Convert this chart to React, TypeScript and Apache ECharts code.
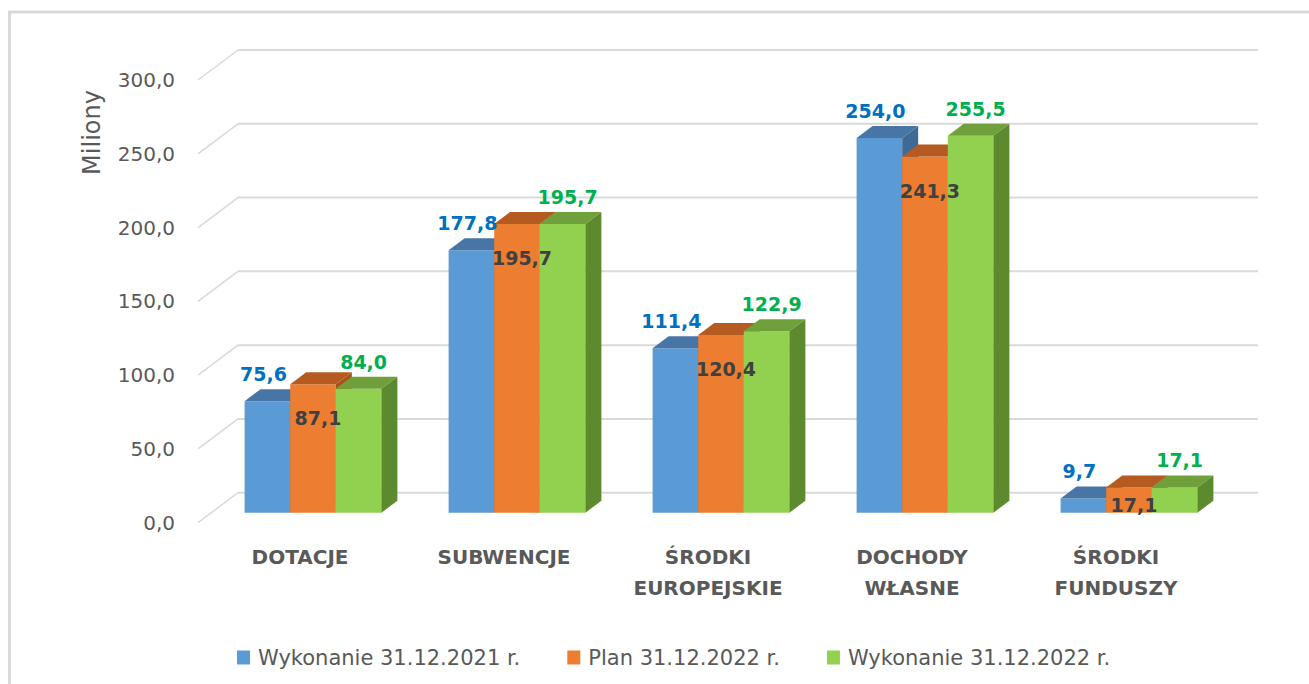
import React, { useEffect, useRef } from "react";
import * as echarts from "echarts";

const categories = ["DOTACJE", "SUBWENCJE", "ŚRODKI\nEUROPEJSKIE", "DOCHODY\nWŁASNE", "ŚRODKI\nFUNDUSZY"];
const seriesNames = ["Wykonanie 31.12.2021 r.", "Plan 31.12.2022 r.", "Wykonanie 31.12.2022 r."];
const wykonanie2021 = [75.6, 177.8, 111.4, 254.0, 9.7];
const plan2022 = [87.1, 195.7, 120.4, 241.3, 17.1];
const wykonanie2022 = [84.0, 195.7, 122.9, 255.5, 17.1];
const yTicks = [0, 50, 100, 150, 200, 250, 300];
const axisTitle = "Miliony";

const FONT = "'DejaVu Sans', sans-serif";
const fmt = (v: number) => v.toFixed(1).replace(".", ",");

// 3D geometry (pixels)
const FRONT_DX = 13;
const FRONT_DY = -10;
const DEPTH_DX = 16;
const DEPTH_DY = -12;
const WALL_DX = 40;
const WALL_DY = -30;

type Palette = { front: string; top: string; side: string; label: string };

const palettes: Palette[] = [
  { front: "#5b9bd5", top: "#4776a6", side: "#3e6a96", label: "#0070c0" },
  { front: "#ed7d31", top: "#b55b21", side: "#a9531c", label: "#404040" },
  { front: "#92d050", top: "#70a03c", side: "#5d8a2e", label: "#00b050" },
];

function makeBarRender(k: number) {
  const p = palettes[k];
  return (params: any, api: any) => {
    const i = api.value(0);
    const v = api.value(1);
    const top = api.coord([i, v]);
    const base = api.coord([i, 0]);
    const band = api.size([1, 0])[0];
    const bw = band * 0.2235;
    const cx = top[0] + (k - 1) * bw + FRONT_DX;
    const l = cx - bw / 2;
    const r = cx + bw / 2;
    const ty = top[1] + FRONT_DY;
    const by = base[1] + FRONT_DY;
    let lx = cx;
    let ly = ty;
    if (k === 0) {
      lx = cx - 4;
      ly = ty - 27;
    } else if (k === 2) {
      lx = cx + 5;
      ly = ty - 27;
    } else {
      lx = cx + 5;
      ly = Math.min(ty + 34, by - 8);
    }
    return {
      type: "group",
      children: [
        {
          type: "rect",
          shape: { x: l, y: ty, width: bw, height: Math.max(by - ty, 0) },
          style: { fill: p.front },
        },
        {
          type: "polygon",
          shape: {
            points: [
              [l, ty],
              [l + DEPTH_DX, ty + DEPTH_DY],
              [r + DEPTH_DX, ty + DEPTH_DY],
              [r, ty],
            ],
          },
          style: { fill: p.top },
        },
        {
          type: "polygon",
          shape: {
            points: [
              [r, ty],
              [r + DEPTH_DX, ty + DEPTH_DY],
              [r + DEPTH_DX, by + DEPTH_DY],
              [r, by],
            ],
          },
          style: { fill: p.side },
        },
        {
          type: "text",
          z2: 100,
          x: lx,
          y: ly,
          style: {
            text: fmt(v),
            fill: p.label,
            font: `bold 19px ${FONT}`,
            textAlign: "center",
            textVerticalAlign: "middle",
            align: "center",
            verticalAlign: "middle",
          },
        },
      ],
    };
  };
}

const gridRender = (params: any, api: any) => {
  const cs = params.coordSys;
  const y = api.coord([0, api.value(1)])[1];
  const x0 = cs.x;
  return {
    type: "group",
    children: [
      {
        type: "polyline",
        shape: { points: [[x0, y], [x0 + WALL_DX, y + WALL_DY]] },
        style: { stroke: "#d9d9d9", lineWidth: 1.5, fill: "none" },
      },
      {
        type: "line",
        shape: { x1: x0 + WALL_DX, y1: y + WALL_DY, x2: x0 + WALL_DX + cs.width, y2: y + WALL_DY },
        style: { stroke: "#d9d9d9", lineWidth: 2 },
      },
    ],
  };
};

export default function App() {
  const ref = useRef<HTMLDivElement>(null);
  useEffect(() => {
    if (!ref.current) return;
    const chart = echarts.init(ref.current, undefined, { renderer: "svg" });
    const allSeries = [wykonanie2021, plan2022, wykonanie2022];
    chart.setOption({
      animation: false,
      backgroundColor: "#ffffff",
      grid: { left: 198, right: 91, top: 80, bottom: 161.3, containLabel: false },
      legend: {
        left: 232,
        top: 642,
        itemWidth: 13,
        itemHeight: 14,
        itemGap: 47,
        icon: "rect",
        data: seriesNames,
        textStyle: { fontFamily: FONT, fontSize: 21, color: "#595959", padding: [0, 0, 0, 3] },
      },
      xAxis: {
        type: "category",
        data: categories,
        axisLine: { show: false },
        axisTick: { show: false },
        splitLine: { show: false },
        axisLabel: {
          interval: 0,
          margin: 19,
          fontFamily: FONT,
          fontSize: 20,
          fontWeight: "bold",
          color: "#595959",
          lineHeight: 31,
          verticalAlign: "top",
        },
      },
      yAxis: {
        type: "value",
        min: 0,
        max: 300,
        interval: 50,
        axisLine: { show: false },
        axisTick: { show: false },
        splitLine: { show: false },
        axisLabel: {
          margin: 23,
          fontFamily: FONT,
          fontSize: 20,
          color: "#595959",
          padding: [4, 0, 0, 0],
          formatter: (v: number) => fmt(v),
        },
      },
      graphic: [
        {
          type: "rect",
          shape: { x: 9.5, y: 12, width: 1400, height: 800 },
          style: { fill: "none", stroke: "#d9d9d9", lineWidth: 3 },
          silent: true,
        },
        {
          type: "text",
          x: 92,
          y: 132.5,
          rotation: Math.PI / 2,
          style: {
            text: axisTitle,
            font: `24px ${FONT}`,
            fill: "#595959",
            textAlign: "center",
            textVerticalAlign: "middle",
          },
        },
      ],
      series: [
        {
          type: "custom",
          name: "grid",
          z: 1,
          silent: true,
          renderItem: gridRender,
          data: yTicks.map((t) => [0, t]),
          encode: { x: 0, y: 1 },
        },
        ...allSeries.map((vals, k) => ({
          type: "custom",
          name: seriesNames[k],
          z: 2,
          itemStyle: { color: palettes[k].front },
          renderItem: makeBarRender(k),
          data: vals.map((v, i) => [i, v]),
          encode: { x: 0, y: 1 },
        })),
      ],
    });
    return () => chart.dispose();
  }, []);
  return (
    <div
      ref={ref}
      style={{ position: "absolute", left: 0, top: 0, width: 1309, height: 684 }}
    />
  );
}
